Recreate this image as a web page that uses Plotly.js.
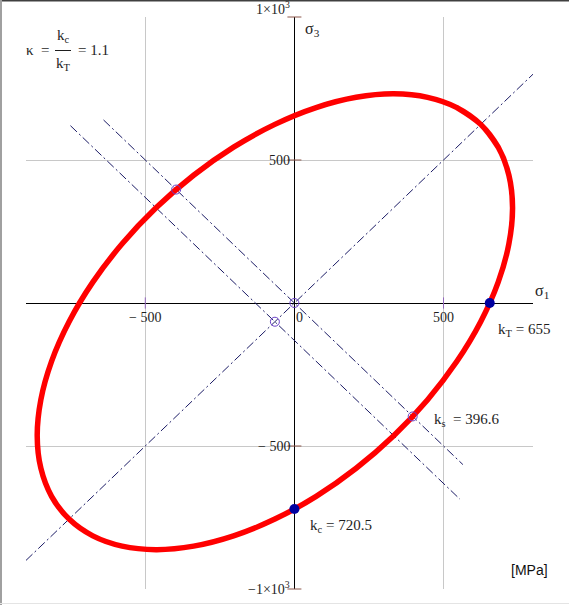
<!DOCTYPE html>
<html><head><meta charset="utf-8">
<script src="https://cdn.plot.ly/plotly-3.0.1.min.js"></script>
<style>html,body{margin:0;padding:0;background:#fff;} #chart{width:569px;height:605px;}</style>
</head><body><div id="chart"></div>
<script>
// Values
const kT = 655, kC = 720.5, kS = 396.6, kappa = 1.1;

// Yield ellipse points (sigma1, sigma3), read around the curve
const ellipseS1 = [544.9, 624.6, 683.3, 719.2, 731.4, 719.2, 683.3, 624.6, 544.9, 446.7, 332.9, 207.0, 72.9, -65.5, -203.9, -338.0, -463.9, -577.7, -675.9, -755.6, -814.3, -850.2, -862.4, -850.2, -814.3, -755.6, -675.9, -577.7, -463.9, -338.0, -203.9, -65.5, 72.9, 207.0, 332.9, 446.7, 544.9, 624.6, 683.3];
const ellipseS3 = [683.3, 624.6, 544.9, 446.7, 332.9, 207.0, 72.9, -65.5, -203.9, -338.0, -463.9, -577.7, -675.9, -755.6, -814.3, -850.2, -862.4, -850.2, -814.3, -755.6, -675.9, -577.7, -463.9, -338.0, -203.9, -65.5, 72.9, 207.0, 332.9, 446.7, 544.9, 624.6, 683.3, 719.2, 731.4, 719.2, 683.3, 624.6, 544.9];

// Dash-dot guide lines
const majorLineS1 = [-900, 800];
const majorLineS3 = [-900, 800];
const minorLineS1 = [-751, 555];
const minorLineS3 = [620, -686];
const shearLineS1 = [-640, 565];
const shearLineS3 = [640, -565];

// Marked points
const openPtS1 = [-kS, 0, -65.5, kS];
const openPtS3 = [kS, 0, -65.5, -kS];
const filledPtS1 = [kT, 0];
const filledPtS3 = [0, -kC];

// Axis ticks
const xTickVals = [-500, 500];
const yTickVals = [-1000, -500, 500, 1000];
const xTickLabels = ['\u2212 500', '0', '500'];
const xTickLabelPos = [-500, 17, 500];
const yTickLabels = ['1\u00d710<sup>3</sup>', '500', '\u2212 500', '\u22121\u00d710<sup>3</sup>'];
const yTickLabelPos = [1000, 500, -500, -1000];

const guideColor = '#1c1c66';
const dashStyle = '9px,3px,2px,3px';
const serif = 'Liberation Serif, Times New Roman, serif';
const txtColor = '#1e1e1e';

const traces = [
  {x: majorLineS1, y: majorLineS3, mode: 'lines', line: {color: guideColor, width: 1, dash: dashStyle}, hoverinfo: 'skip'},
  {x: minorLineS1, y: minorLineS3, mode: 'lines', line: {color: guideColor, width: 1, dash: dashStyle}, hoverinfo: 'skip'},
  {x: shearLineS1, y: shearLineS3, mode: 'lines', line: {color: guideColor, width: 1, dash: dashStyle}, hoverinfo: 'skip'},
  {x: ellipseS1, y: ellipseS3, mode: 'lines', line: {color: '#ff0000', width: 5.5, shape: 'spline', smoothing: 1}, hoverinfo: 'skip'},
  {x: xTickVals, y: xTickVals.map(() => 0), mode: 'markers', cliponaxis: false,
   marker: {symbol: 'line-ns-open', size: 8, line: {color: '#000', width: 1}}, hoverinfo: 'skip'},
  {x: yTickVals.map(() => 0), y: yTickVals, mode: 'markers', cliponaxis: false,
   marker: {symbol: 'line-ew-open', size: 10, line: {color: '#000', width: 1}}, hoverinfo: 'skip'},
  {x: openPtS1, y: openPtS3, mode: 'markers',
   marker: {symbol: 'circle-open', size: 9, color: '#6a3fc8', line: {color: '#6a3fc8', width: 1}}, hoverinfo: 'skip'},
  {x: filledPtS1, y: filledPtS3, mode: 'markers',
   marker: {symbol: 'circle', size: 10, color: '#0000a0', line: {width: 0}}, hoverinfo: 'skip'}
];

const annotations = [];
xTickLabels.forEach((t, i) => annotations.push({
  x: xTickLabelPos[i], y: -49, xref: 'x', yref: 'y', text: t, showarrow: false,
  xanchor: 'center', yanchor: 'middle', font: {family: serif, size: 14, color: txtColor}
}));
yTickLabels.forEach((t, i) => annotations.push({
  x: 0, y: yTickLabelPos[i], xref: 'x', yref: 'y', text: t, showarrow: false,
  xanchor: 'right', xshift: -2,
  yanchor: i === 0 ? 'bottom' : 'middle', yshift: i === 0 ? -2 : (i === 3 ? 1 : 0),
  font: {family: serif, size: 14, color: txtColor}
}));
function pxX(px) { return (px - 26) / 507; }
function pxY(py) { return (589 - py) / 572; }
annotations.push(
  {x: pxX(24), y: pxY(50), xref: 'paper', yref: 'paper', text: '\u03ba  =', showarrow: false, xanchor: 'left', yanchor: 'middle', font: {family: serif, size: 15, color: txtColor}},
  {x: pxX(63), y: pxY(36), xref: 'paper', yref: 'paper', text: 'k<sub>c</sub>', showarrow: false, xanchor: 'center', yanchor: 'middle', font: {family: serif, size: 15, color: txtColor}},
  {x: pxX(63), y: pxY(64), xref: 'paper', yref: 'paper', text: 'k<sub>T</sub>', showarrow: false, xanchor: 'center', yanchor: 'middle', font: {family: serif, size: 15, color: txtColor}},
  {x: pxX(76), y: pxY(50), xref: 'paper', yref: 'paper', text: '= ' + kappa.toFixed(1), showarrow: false, xanchor: 'left', yanchor: 'middle', font: {family: serif, size: 15, color: txtColor}},
  {x: 1.0, y: 40, xref: 'paper', yref: 'y', text: '\u03c3<sub>1</sub>', showarrow: false, xanchor: 'left', yanchor: 'middle', font: {family: serif, size: 16, color: txtColor}},
  {x: 28, y: 955, xref: 'x', yref: 'y', text: '\u03c3<sub>3</sub>', showarrow: false, xanchor: 'left', yanchor: 'middle', font: {family: serif, size: 16, color: txtColor}},
  {x: 676, y: -94, xref: 'x', yref: 'y', text: 'k<sub>T</sub> = ' + kT, showarrow: false, xanchor: 'left', yanchor: 'middle', font: {family: serif, size: 15, color: txtColor}},
  {x: 462, y: -409, xref: 'x', yref: 'y', text: 'k<sub>s</sub>  = ' + kS.toFixed(1), showarrow: false, xanchor: 'left', yanchor: 'middle', font: {family: serif, size: 15, color: txtColor}},
  {x: 44, y: -780, xref: 'x', yref: 'y', text: 'k<sub>c</sub> = ' + kC.toFixed(1), showarrow: false, xanchor: 'left', yanchor: 'middle', font: {family: serif, size: 15, color: txtColor}},
  {x: pxX(529), y: pxY(570), xref: 'paper', yref: 'paper', text: '[MPa]', showarrow: false, xanchor: 'center', yanchor: 'middle', font: {family: 'Liberation Sans, Arial, sans-serif', size: 14, color: '#111'}}
);

const shapes = [
  {type: 'line', xref: 'paper', yref: 'paper', x0: pxX(55), x1: pxX(71), y0: pxY(50.5), y1: pxY(50.5), line: {color: txtColor, width: 1}},
  {type: 'line', xref: 'paper', yref: 'paper', x0: pxX(0), x1: pxX(569), y0: pxY(0.5), y1: pxY(0.5), line: {color: '#404040', width: 2}},
  {type: 'line', xref: 'paper', yref: 'paper', x0: pxX(1), x1: pxX(1), y0: pxY(0), y1: pxY(605), line: {color: '#a0a0a0', width: 2}},
  {type: 'line', xref: 'paper', yref: 'paper', x0: pxX(0), x1: pxX(569), y0: pxY(603.5), y1: pxY(603.5), line: {color: '#e4e4e4', width: 1}}
];

const axisCommon = {
  dtick: 500, tick0: 0, showgrid: true, gridcolor: '#c8c8c8', gridwidth: 1,
  zeroline: true, zerolinecolor: '#000', zerolinewidth: 1,
  showticklabels: false, ticks: '', showline: false, fixedrange: true
};
const layout = {
  width: 569, height: 605,
  margin: {l: 26, r: 36, t: 17, b: 16, pad: 0},
  paper_bgcolor: '#fff', plot_bgcolor: '#fff',
  showlegend: false,
  xaxis: Object.assign({range: [-900, 800]}, axisCommon),
  yaxis: Object.assign({range: [-1000, 1000]}, axisCommon),
  annotations: annotations,
  shapes: shapes
};
Plotly.newPlot('chart', traces, layout, {staticPlot: true, displayModeBar: false});
</script>
</body></html>
